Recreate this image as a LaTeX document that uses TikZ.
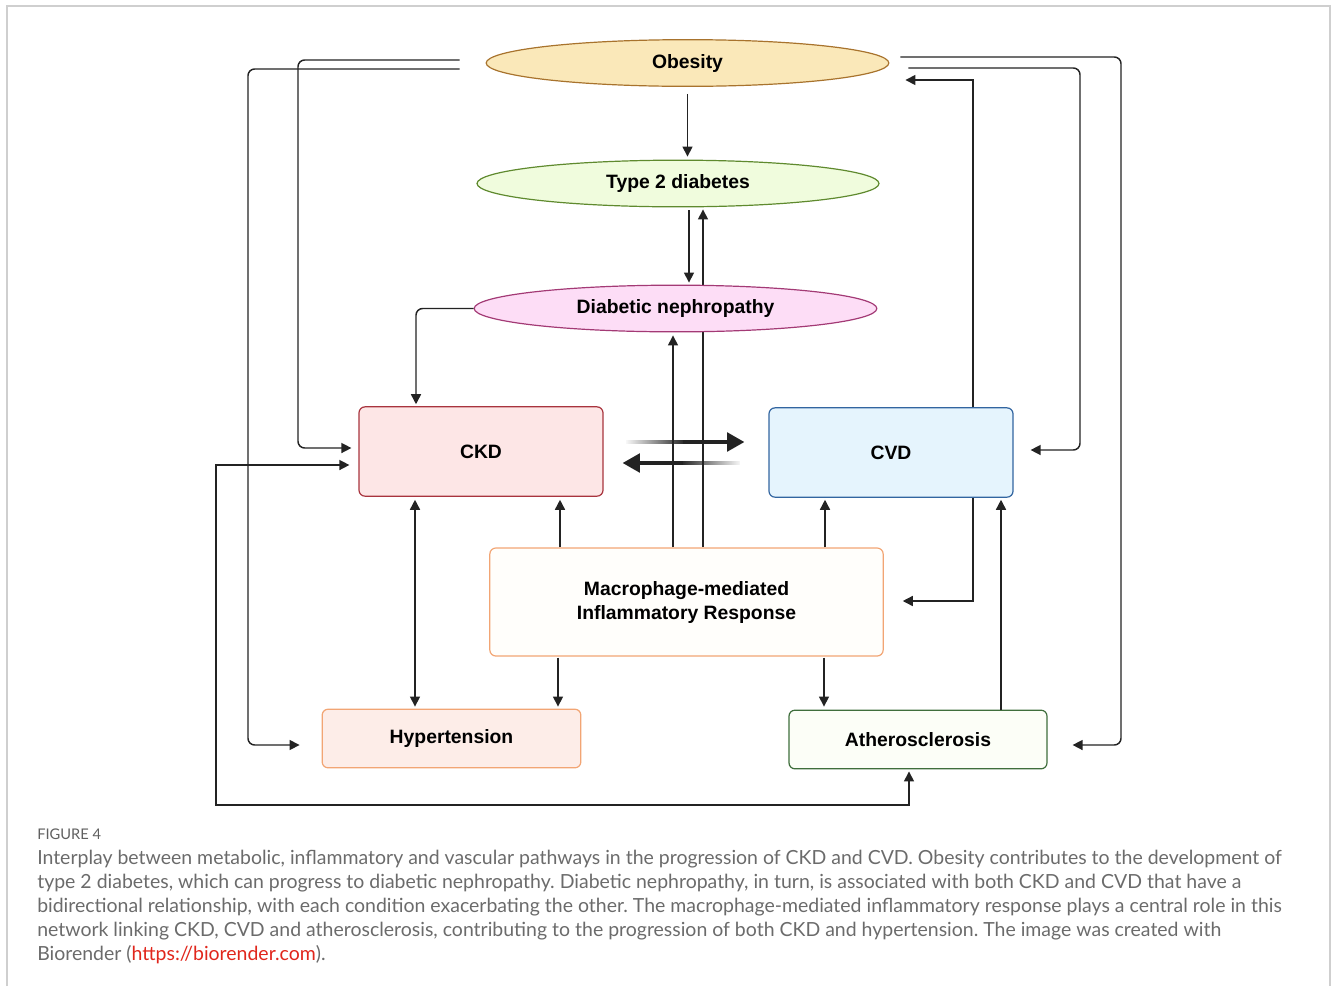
\documentclass[tikz,border=0pt]{standalone}
\usepackage{fontspec}
\setmainfont{Liberation Sans}
\newfontfamily\capfont{Lato}
\usetikzlibrary{shapes.geometric,arrows.meta,calc,backgrounds,fadings}
\frenchspacing

\definecolor{linegray}{HTML}{232323}
\definecolor{framegray}{HTML}{CFCFCF}
\definecolor{capgray}{HTML}{6B6B6B}
\definecolor{urlred}{HTML}{E0261C}
\definecolor{obfill}{HTML}{FAE8B9}\definecolor{obline}{HTML}{A8732D}
\definecolor{tdfill}{HTML}{F0FCDD}\definecolor{tdline}{HTML}{5F8A2E}
\definecolor{dnfill}{HTML}{FDDDF6}\definecolor{dnline}{HTML}{A33A75}
\definecolor{ckdfill}{HTML}{FDE6E6}\definecolor{ckdline}{HTML}{A8343E}
\definecolor{cvdfill}{HTML}{E5F4FD}\definecolor{cvdline}{HTML}{3265A0}
\definecolor{mafill}{HTML}{FFFEFB}\definecolor{maline}{HTML}{F2A574}
\definecolor{hyfill}{HTML}{FDEDE8}
\definecolor{atfill}{HTML}{FCFEF7}\definecolor{atline}{HTML}{3F6E3C}

\tikzfading[name=tailleft, left color=transparent!100, right color=transparent!0]
\tikzfading[name=tailright, left color=transparent!0, right color=transparent!100]

\begin{document}
\begin{tikzpicture}[x=0.75pt, y=-0.75pt,
    oval/.style={ellipse, draw, line width=0.9pt, inner sep=0pt, minimum height=35pt,
        font=\fontsize{14.5}{17}\selectfont\bfseries},
    box/.style={rectangle, rounded corners=4.5pt, draw, line width=0.9pt, inner sep=0pt,
        align=center, font=\fontsize{14.5}{18}\selectfont\bfseries},
    conn/.style={draw=linegray, line width=1.1pt, -{Triangle[length=7.5pt,width=7.5pt]}},
    twoway/.style={conn, {Triangle[length=7.5pt,width=7.5pt]}-{Triangle[length=7.5pt,width=7.5pt]}},
    bigarrow/.style={draw=linegray, line width=2.6pt, -{Triangle[length=13pt,width=14pt]}},
    bigtail/.style={draw=linegray, line width=2.6pt},
    capline/.style={anchor=base west, inner sep=0pt, text=capgray,
        font=\capfont\fontsize{14.6}{17}\selectfont}]

    \useasboundingbox (0,0) rectangle (1331,986);
    \draw[framegray, line width=0.8pt] (7,986) -- (7,6) -- (1330,6) -- (1330,986);

    % conditions
    \node[oval, fill=obfill, draw=obline, minimum width=302pt] (obesity) at (687.5,63) {Obesity};
    \node[oval, fill=tdfill, draw=tdline, minimum width=301.5pt] (t2d) at (678,183.5) {Type 2 diabetes};
    \node[oval, fill=dnfill, draw=dnline, minimum width=302pt] (dn) at (675.5,308.5) {Diabetic nephropathy};
    \node[box, fill=ckdfill, draw=ckdline, minimum width=183pt, minimum height=67pt] (ckd) at (481,451.5) {CKD};
    \node[box, fill=cvdfill, draw=cvdline, minimum width=183pt, minimum height=67pt] (cvd) at (891,452.5) {CVD};
    \node[box, fill=mafill, draw=maline, minimum width=295pt, minimum height=81pt] (macro) at (686.5,602)
        {Macrophage-mediated\\Inflammatory Response};
    \node[box, fill=hyfill, draw=maline, minimum width=194pt, minimum height=44pt] (hyp) at (451.5,738.5) {Hypertension};
    \node[box, fill=atfill, draw=atline, minimum width=193.5pt, minimum height=44pt] (ath) at (918,739.5) {Atherosclerosis};

    % CKD <-> CVD
    \draw[bigtail, path fading=tailleft] ($(ckd.east)+(22,-9.5)$) -- ($(ckd.east)+(80,-9.5)$);
    \draw[bigarrow] ($(ckd.east)+(79,-9.5)$) -- ($(cvd.west)+(-24,-10.5)$);
    \draw[bigtail, path fading=tailright] ($(cvd.west)+(-86,10.5)$) -- ($(cvd.west)+(-28,10.5)$);
    \draw[bigarrow] ($(cvd.west)+(-85,10.5)$) -- ($(ckd.east)+(19,11.5)$);

    % vertical links
    \draw[conn] ($(obesity.south)+(0,7)$) -- ($(obesity.south |- t2d.north)+(0,-3)$);
    \draw[conn] ($(t2d.south)+(11,3)$) -- ($(dn.north)+(13.5,-2)$);
    \begin{scope}[on background layer]
        \draw[conn] ($(macro.north)+(16.5,0)$) -- ($(t2d.south)+(25,2)$);
    \end{scope}
    \draw[conn] ($(macro.north)+(-13.5,0)$) -- ($(dn.south)+(-2.5,3)$);
    \draw[twoway] ($(ckd.south)+(-66,3)$) -- ($(hyp.north)+(-36.5,-2)$);
    \draw[conn] ($(macro.north)+(-126.5,0)$) -- ($(ckd.south)+(79,3)$);
    \draw[conn] ($(macro.south)+(-128.5,1)$) -- ($(hyp.north)+(106.5,-2)$);
    \draw[conn] ($(macro.north)+(138.5,0)$) -- ($(cvd.south)+(-66,2)$);
    \draw[conn] ($(macro.south)+(137.5,1)$) -- ($(ath.north)+(-94,-3)$);
    \draw[conn] ($(ath.north)+(83,0)$) -- ($(cvd.south)+(110,2)$);

    % loops round the sides
    \draw[conn, rounded corners=5pt] (dn.west) -| ($(ckd.north)+(-65,-2)$);
    \draw[conn, rounded corners=5pt] ($(obesity.west)+(-26,-3)$) -| (298,448) -- ($(ckd.west)+(-7,-3.5)$);
    \draw[conn, rounded corners=5pt] ($(obesity.west)+(-26,6)$) -| (248,745) -- ($(hyp.west)+(-22,6.5)$);
    \draw[conn, rounded corners=5pt] ($(obesity.east)+(11,-6)$) -| (1121,745) -- ($(ath.east)+(25,5.5)$);
    \draw[conn, rounded corners=5pt] ($(obesity.east)+(19,5)$) -| (1080,450) -- ($(cvd.east)+(17,-2.5)$);
    \draw[conn] ($(cvd.north)+(82,0)$) |- ($(obesity.east)+(16,17)$);
    \draw[conn] ($(cvd.south)+(82,0)$) |- ($(macro.east)+(19,-1)$);
    \draw[twoway] ($(ckd.west)+(-9,13.5)$) -| (216,805) -| ($(ath.south)+(-9,2)$);

    % caption
    \node[capline, font=\capfont\fontsize{11}{13}\selectfont, text=capgray!90!black] (fig) at (37,839) {FIGURE 4};
    \node[capline] (cap1) at (37,864) {Interplay between metabolic, inflammatory and vascular pathways in the progression of CKD and CVD. Obesity contributes to the development of};
    \node[capline] (cap2) at (37,888) {type 2 diabetes, which can progress to diabetic nephropathy. Diabetic nephropathy, in turn, is associated with both CKD and CVD that have a};
    \node[capline] (cap3) at (37,912) {bidirectional relationship, with each condition exacerbating the other. The macrophage-mediated inflammatory response plays a central role in this};
    \node[capline] (cap4) at (37,936) {network linking CKD, CVD and atherosclerosis, contributing to the progression of both CKD and hypertension. The image was created with};
    \node[capline] (cap5) at (37,960) {Biorender (\textcolor{urlred}{https://biorender.com}).};
\end{tikzpicture}
\end{document}
